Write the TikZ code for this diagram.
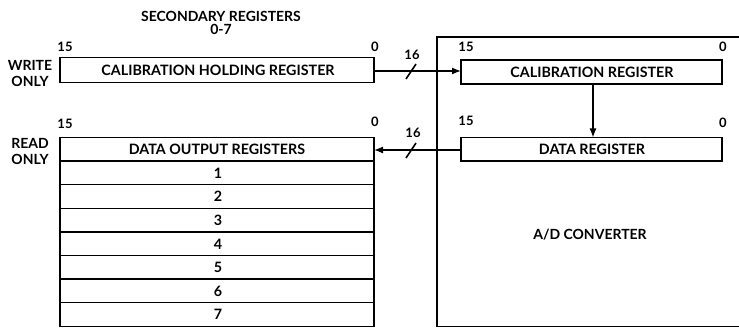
\documentclass[tikz,border=0pt]{standalone}
\usepackage{fontspec}
\setmainfont{Lato}
\usetikzlibrary{arrows.meta}
\begin{document}
\begin{tikzpicture}[x=1pt,y=-1pt,
  reg/.style={draw,line width=1.6pt,inner sep=0pt,font=\bfseries\fontsize{14.3}{15}\selectfont},
  lbl/.style={inner sep=0pt,font=\bfseries\fontsize{14}{16}\selectfont},
  bit/.style={inner sep=0pt,font=\bfseries\fontsize{13}{14}\selectfont},
  conn/.style={line width=1.3pt,-{Latex[length=9pt,width=7pt]}},
  slash/.style={line width=1.6pt}]
\useasboundingbox (0,0) rectangle (739,328);
\clip (0,0) rectangle (739,328);
% title
\node[lbl] (title) at (221,16) {SECONDARY REGISTERS};
\node[lbl] (range) at (221,29) {0-7};
% side labels
\node[lbl,align=center] (wr) at (30,73) {WRITE\\ONLY};
\node[lbl,align=center] (rd) at (30,151) {READ\\ONLY};
% holding register
\draw[line width=1.6pt] (60,57.5) rectangle (374,82.5);
\node[reg,draw=none] (hold) at (218,70) {CALIBRATION HOLDING REGISTER};
\coordinate (holdR) at (374,71);
\node[bit] (h15) at (65,47) {15};
\node[bit] (h0) at (375,47) {0};
% A/D converter
\draw[line width=1.6pt] (437,37) rectangle (760,326.5);
\node[lbl] (ad) at (590,235) {A/D CONVERTER};
% calibration register
\draw[line width=1.6pt] (461,60) rectangle (722,84);
\node[reg,draw=none] (cal) at (592,72) {CALIBRATION REGISTER};
\coordinate (calL) at (461,71);
\coordinate (calB) at (593,84);
\node[bit] (c15) at (466,47) {15};
\node[bit] (c0) at (723,47) {0};
% data register
\draw[line width=1.6pt] (461,137.5) rectangle (722,161);
\node[reg,draw=none] (dat) at (592,149) {DATA REGISTER};
\coordinate (datL) at (461,150);
\coordinate (datT) at (593,137.5);
\node[bit] (d15) at (466,121) {15};
\node[bit] (d0) at (723,123) {0};
% data output registers
\draw[line width=1.6pt] (60,137.5) rectangle (374,326.5);
\foreach \i in {1,...,7} {
  \draw[line width=1.5pt] (60,{137.5+\i*23.6}) -- (374,{137.5+\i*23.6});
}
\node[reg,draw=none] (dout) at (217,149.5) {DATA OUTPUT REGISTERS};
\foreach \i in {1,...,7} {
  \node[reg,draw=none] (r\i) at (218,{149.5+\i*23.6}) {\i};
}
\coordinate (doutR) at (374,150);
\node[bit] (o15) at (65,124) {15};
\node[bit] (o0) at (375,122) {0};
% connectors
\draw[conn] (holdR) -- (calL);
\draw[slash] (406,79) -- (416,64);
\node[bit] (n16a) at (412,55) {16};
\draw[conn] (calB) -- (datT);
\draw[conn] (datL) -- (doutR);
\draw[slash] (406,158) -- (416,143);
\node[bit] (n16b) at (413,133) {16};
\end{tikzpicture}
\end{document}
